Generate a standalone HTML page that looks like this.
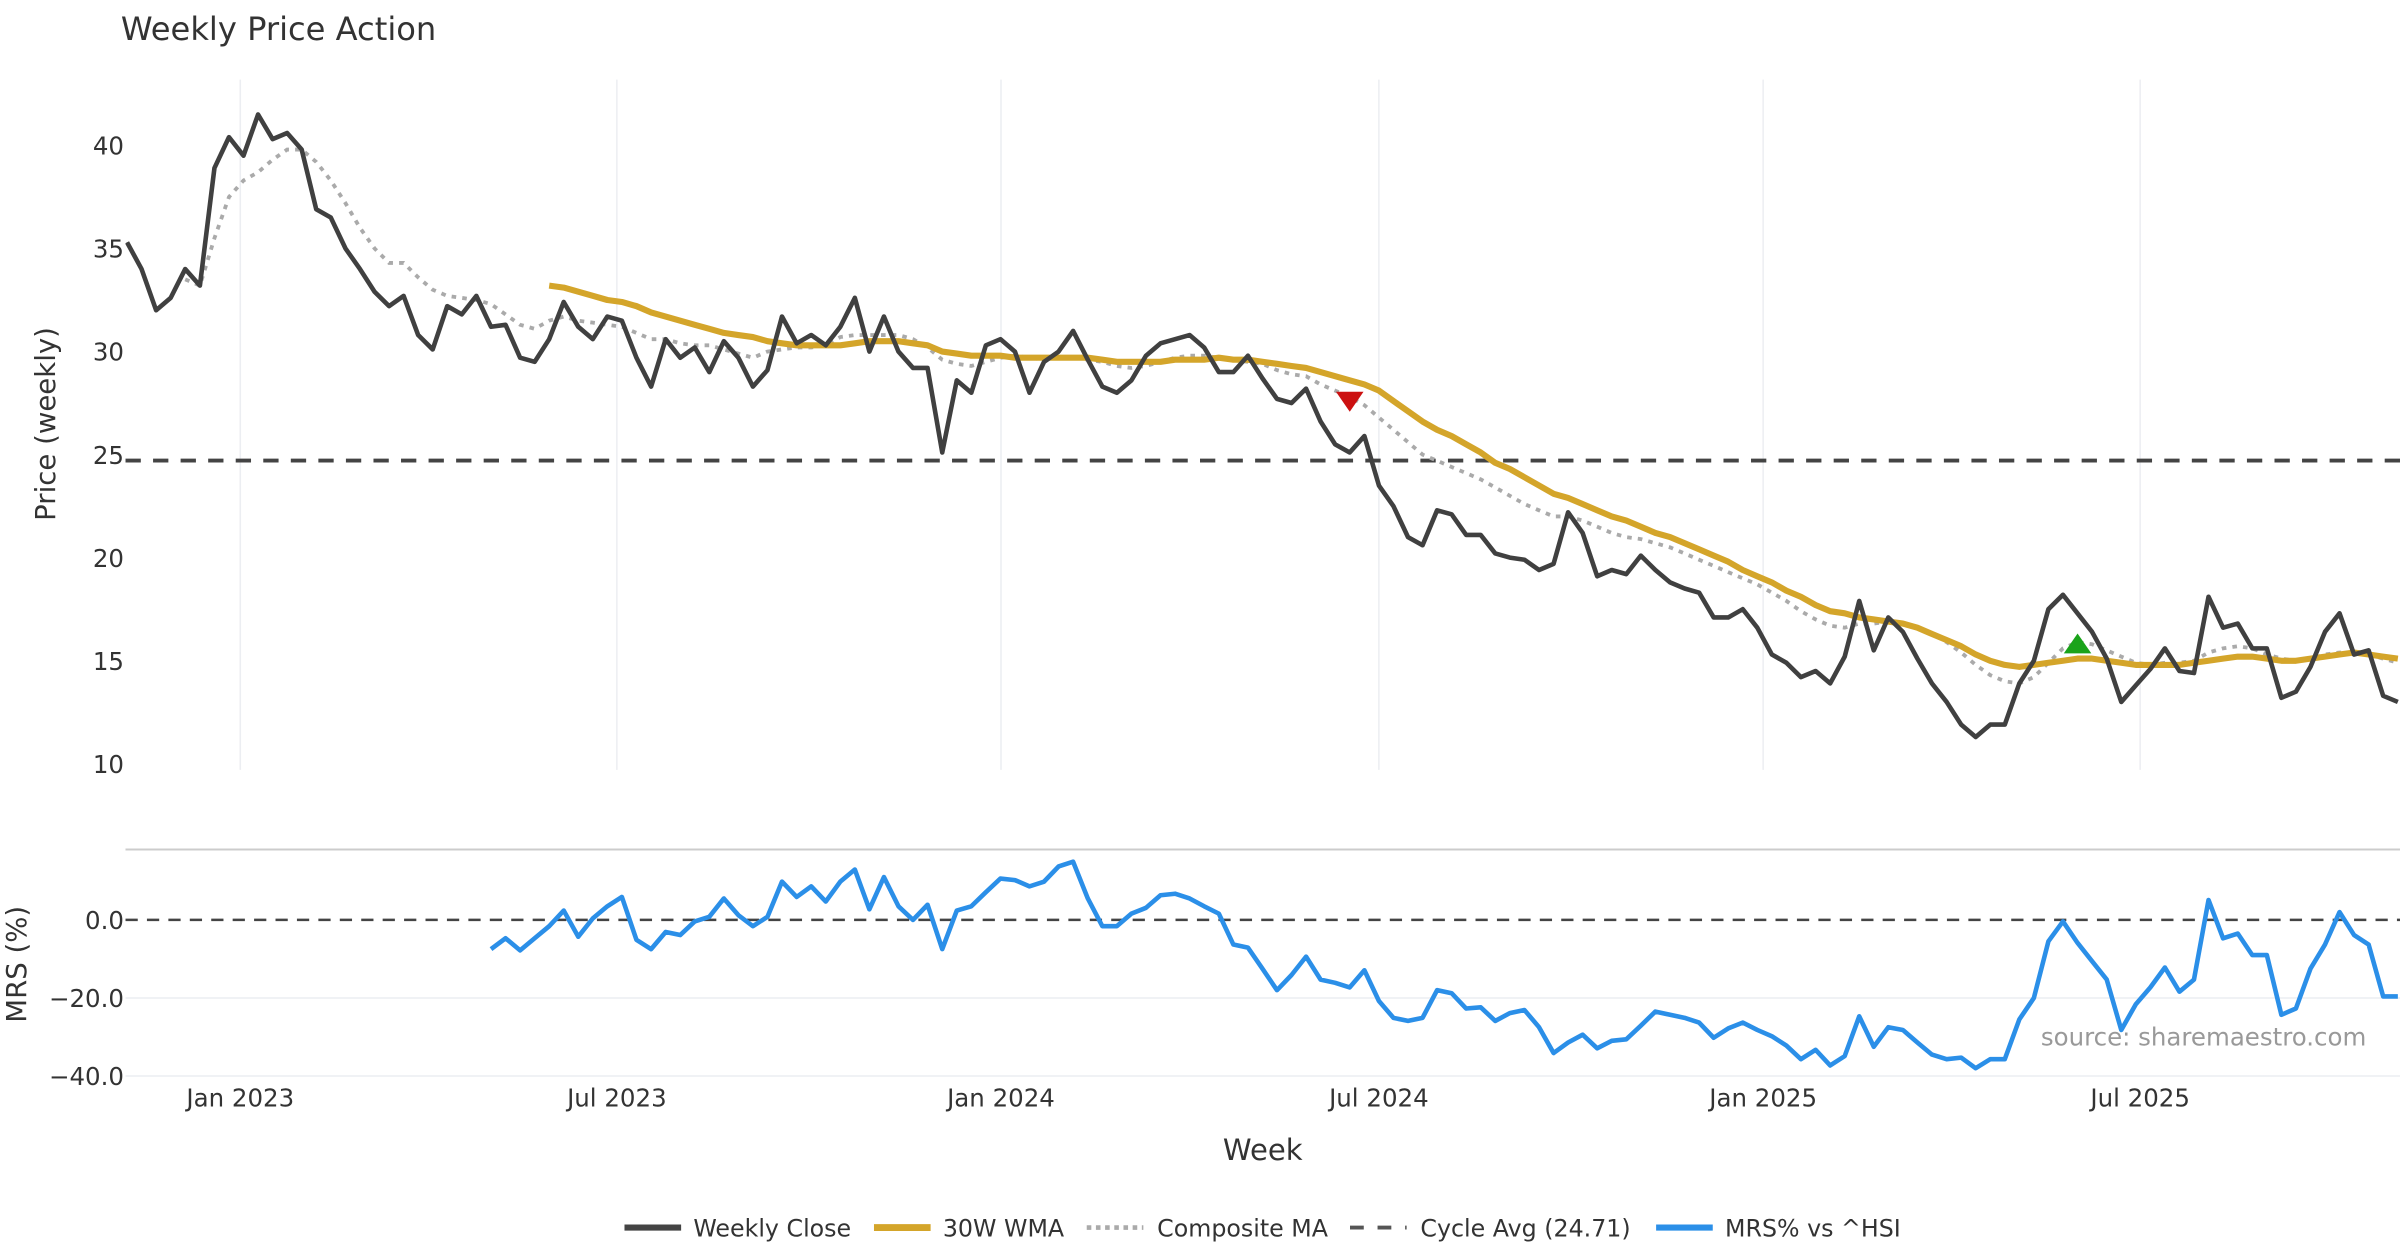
<!DOCTYPE html>
<html><head><meta charset="utf-8"><style>
html,body{margin:0;padding:0;background:#fff;}
svg{display:block;font-family:"DejaVu Sans","Liberation Sans",sans-serif;}
</style></head><body>
<svg id="chart" width="2400" height="1260" viewBox="0 0 1568 823.2" xmlns="http://www.w3.org/2000/svg">
<defs><clipPath id="clipP"><rect x="82" y="40" width="1486" height="470"/></clipPath>
<clipPath id="clipM"><rect x="82" y="556" width="1486" height="150"/></clipPath></defs>
<text x="79" y="26" font-size="21" fill="#333">Weekly Price Action</text>
<g id="grid"></g>
<g id="price" clip-path="url(#clipP)"></g>
<g id="mrs" clip-path="url(#clipM)"></g>
<g id="axes"></g>
<text transform="translate(36,277) rotate(-90)" text-anchor="middle" font-size="18" fill="#333">Price (weekly)</text>
<text transform="translate(17,630) rotate(-90)" text-anchor="middle" font-size="18" fill="#333">MRS (%)</text>
<text x="825" y="758" text-anchor="middle" font-size="19" fill="#333">Week</text>
<text x="1546" y="683" text-anchor="end" font-size="16" fill="#999">source: sharemaestro.com</text>
<g font-size="15.5" fill="#333">
<g><line x1="408" y1="802" x2="445" y2="802" stroke="#444" stroke-width="4"/><text x="453" y="808">Weekly Close</text></g>
<g><line x1="571" y1="802" x2="608" y2="802" stroke="#D4A52A" stroke-width="4.5"/><text x="616" y="808">30W WMA</text></g>
<g><line x1="710" y1="802" x2="747" y2="802" stroke="#aaa" stroke-width="3" stroke-dasharray="3,3"/><text x="756" y="808">Composite MA</text></g>
<g><line x1="882" y1="802" x2="919" y2="802" stroke="#555" stroke-width="2.5" stroke-dasharray="9,9"/><text x="928" y="808">Cycle Avg (24.71)</text></g>
<g><line x1="1082" y1="802" x2="1119" y2="802" stroke="#2B8FE8" stroke-width="4"/><text x="1127" y="808">MRS% vs ^HSI</text></g>
</g>
</svg>
<script>
const closes=[35.3,34.0,32.0,32.6,34.0,33.2,38.9,40.4,39.5,41.5,40.3,40.6,39.8,36.9,36.5,35.0,34.0,32.9,32.2,32.7,30.8,30.1,32.2,31.8,32.7,31.2,31.3,29.7,29.5,30.6,32.4,31.2,30.6,31.7,31.5,29.7,28.3,30.6,29.7,30.2,29.0,30.5,29.7,28.3,29.1,31.7,30.4,30.8,30.3,31.2,32.6,30.0,31.7,30.0,29.2,29.2,25.1,28.6,28.0,30.3,30.6,30.0,28.0,29.5,30.0,31.0,29.6,28.3,28.0,28.6,29.8,30.4,30.6,30.8,30.2,29.0,29.0,29.8,28.7,27.7,27.5,28.2,26.6,25.5,25.1,25.9,23.5,22.5,21.0,20.6,22.3,22.1,21.1,21.1,20.2,20.0,19.9,19.4,19.7,22.2,21.2,19.1,19.4,19.2,20.1,19.4,18.8,18.5,18.3,17.1,17.1,17.5,16.6,15.3,14.9,14.2,14.5,13.9,15.2,17.9,15.5,17.1,16.4,15.1,13.9,13.0,11.9,11.3,11.9,11.9,13.9,15.0,17.5,18.2,17.3,16.4,15.1,13.0,13.8,14.6,15.6,14.5,14.4,18.1,16.6,16.8,15.6,15.6,13.2,13.5,14.7,16.4,17.3,15.3,15.5,13.3,13.0];
const wmaStart=29;
const wma=[33.2,33.1,32.9,32.7,32.5,32.4,32.2,31.9,31.7,31.5,31.3,31.1,30.9,30.8,30.7,30.5,30.4,30.3,30.3,30.3,30.3,30.4,30.5,30.5,30.5,30.4,30.3,30.0,29.9,29.8,29.8,29.8,29.7,29.7,29.7,29.7,29.7,29.7,29.6,29.5,29.5,29.5,29.5,29.6,29.6,29.6,29.7,29.6,29.6,29.5,29.4,29.3,29.2,29.0,28.8,28.6,28.4,28.1,27.6,27.1,26.6,26.2,25.9,25.5,25.1,24.6,24.3,23.9,23.5,23.1,22.9,22.6,22.3,22.0,21.8,21.5,21.2,21.0,20.7,20.4,20.1,19.8,19.4,19.1,18.8,18.4,18.1,17.7,17.4,17.3,17.1,17.0,16.9,16.8,16.6,16.3,16.0,15.7,15.3,15.0,14.8,14.7,14.8,14.9,15.0,15.1,15.1,15.0,14.9,14.8,14.8,14.8,14.8,14.9,15.0,15.1,15.2,15.2,15.1,15.0,15.0,15.1,15.2,15.3,15.4,15.3,15.2,15.1];
const compStart=4;
const comp=[33.5,33.2,35.5,37.5,38.3,38.7,39.3,39.8,39.8,39.2,38.3,37.2,36.0,35.0,34.3,34.3,33.6,33.0,32.7,32.6,32.5,32.3,31.8,31.3,31.1,31.5,31.7,31.5,31.4,31.3,31.2,30.9,30.6,30.6,30.4,30.3,30.3,30.1,29.9,29.7,30.0,30.1,30.2,30.2,30.3,30.7,30.8,30.8,30.8,30.8,30.6,30.2,29.6,29.4,29.3,29.5,29.7,29.8,29.7,29.6,29.7,29.7,29.6,29.5,29.3,29.2,29.3,29.5,29.7,29.8,29.8,29.7,29.6,29.5,29.4,29.1,28.9,28.8,28.4,28.1,27.8,27.4,26.8,26.2,25.6,25.0,24.7,24.4,24.1,23.8,23.4,23.0,22.6,22.3,22.0,22.0,21.8,21.5,21.2,21.0,20.9,20.7,20.5,20.2,19.9,19.6,19.3,19.0,18.7,18.3,17.9,17.4,17.0,16.7,16.6,16.8,16.8,16.9,16.8,16.6,16.3,15.9,15.4,14.8,14.3,14.0,13.9,14.2,14.9,15.6,15.9,15.8,15.5,15.2,14.9,14.8,14.9,14.9,15.0,15.4,15.6,15.7,15.6,15.3,15.1,15.0,15.1,15.3,15.4,15.4,15.3,15.1,14.9];
const mrsStart=25;
const mrs=[-7.5,-4.7,-7.8,-4.7,-1.6,2.4,-4.3,0.4,3.5,5.9,-5.1,-7.5,-3.1,-3.9,-0.4,0.8,5.5,1.2,-1.6,0.8,9.8,5.9,8.6,4.7,9.8,12.9,2.7,11.0,3.5,0,3.9,-7.5,2.4,3.5,7.1,10.6,10.2,8.6,9.8,13.7,14.9,5.5,-1.6,-1.6,1.6,3.1,6.3,6.7,5.5,3.5,1.6,-6.3,-7.1,-12.5,-18.0,-14.1,-9.4,-15.3,-16.1,-17.3,-12.9,-20.8,-25.1,-25.9,-25.1,-18.0,-18.8,-22.7,-22.4,-25.9,-23.9,-23.1,-27.5,-34.1,-31.4,-29.4,-32.9,-31.0,-30.6,-27.1,-23.5,-24.3,-25.1,-26.3,-30.2,-27.8,-26.3,-28.2,-29.8,-32.2,-35.7,-33.3,-37.3,-34.9,-24.7,-32.5,-27.5,-28.2,-31.4,-34.5,-35.7,-35.3,-38.0,-35.7,-35.7,-25.5,-20.0,-5.5,-0.4,-5.9,-10.6,-15.3,-28.2,-21.6,-17.3,-12.2,-18.4,-15.3,5.1,-4.7,-3.5,-9.0,-9.0,-24.3,-22.7,-12.5,-6.3,2.0,-3.9,-6.3,-19.6,-19.6];
const cycleAvg=24.71;
const sellSignal=[84,27.6];
const buySignal=[134,15.8];
const priceTicks=[10,15,20,25,30,35,40];
const mrsTicks=[0,-20,-40];
const mrsTickLabels=["0.0","\u221220.0","\u221240.0"];
const dateTickIdx=[7.78,33.65,60.04,86.0,112.4,138.3];
const dateTickLabels=["Jan 2023","Jul 2023","Jan 2024","Jul 2024","Jan 2025","Jul 2025"];

const NS="http://www.w3.org/2000/svg";
const X=i=>83+9.51*i;
const YP=v=>499-(v-10)*13.467;
const YM=v=>601-v*2.55;
function mk(tag,attrs,parent){const e=document.createElementNS(NS,tag);for(const k in attrs)e.setAttribute(k,attrs[k]);parent.appendChild(e);return e;}
const grid=document.getElementById('grid'),price=document.getElementById('price'),mrsG=document.getElementById('mrs'),axes=document.getElementById('axes');
dateTickIdx.forEach((t,k)=>{
  const gl=mk('line',{x1:X(t),x2:X(t),y1:52,y2:503,stroke:'#eceef2','stroke-width':1},grid);
  
  
  const tl=mk('text',{x:X(t),y:723,'text-anchor':'middle','font-size':16,fill:'#333'},axes);
  tl.textContent=dateTickLabels[k];
  
  
});
priceTicks.forEach(v=>{
  const tl=mk('text',{x:81,y:YP(v)+6,'text-anchor':'end','font-size':16,fill:'#333'},axes);
  tl.textContent=String(v);
  
  
});
mrsTicks.forEach((v,k)=>{
  if(v!==0){const gl=mk('line',{x1:82,x2:1568,y1:YM(v),y2:YM(v),stroke:'#eceef2','stroke-width':1},grid);
  
  }
  const tl=mk('text',{x:81,y:YM(v)+6,'text-anchor':'end','font-size':16,fill:'#333'},axes);
  tl.textContent=mrsTickLabels[k];
  
  
});
const sep=mk('line',{x1:82,x2:1568,y1:555,y2:555,stroke:'#ccc','stroke-width':1.3},grid);


function pts(arr,start,Y){return arr.map((v,i)=>X(start+i).toFixed(1)+','+Y(v).toFixed(1)).join(' ');}
const ca=mk('line',{x1:82,x2:1568,y1:YP(cycleAvg),y2:YP(cycleAvg),stroke:'#444','stroke-width':2.5,'stroke-dasharray':'10,8'},price);


const cm=mk('polyline',{points:pts(comp,compStart,YP),fill:'none',stroke:'#aaa','stroke-width':2.5,'stroke-dasharray':'3,4'},price);


const wl=mk('polyline',{points:pts(wma,wmaStart,YP),fill:'none',stroke:'#D4A52A','stroke-width':4,'stroke-linejoin':'round'},price);


const cl=mk('polyline',{points:pts(closes,0,YP),fill:'none',stroke:'#404040','stroke-width':3,'stroke-linejoin':'round'},price);


const sx=X(sellSignal[0]),sy=YP(sellSignal[1]);
const st=mk('polygon',{points:`${sx-9},${sy-6} ${sx+9},${sy-6} ${sx},${sy+7}`,fill:'#CC1111'},price);


const bx=X(buySignal[0]),by=YP(buySignal[1]);
const bt=mk('polygon',{points:`${bx-9},${by+6} ${bx+9},${by+6} ${bx},${by-7}`,fill:'#1AA31A'},price);


const zl=mk('line',{x1:82,x2:1568,y1:YM(0),y2:YM(0),stroke:'#444','stroke-width':1.6,'stroke-dasharray':'8,6'},mrsG);


const ml=mk('polyline',{points:pts(mrs,mrsStart,YM),fill:'none',stroke:'#2B8FE8','stroke-width':3,'stroke-linejoin':'round'},mrsG);


</script>
</body></html>
